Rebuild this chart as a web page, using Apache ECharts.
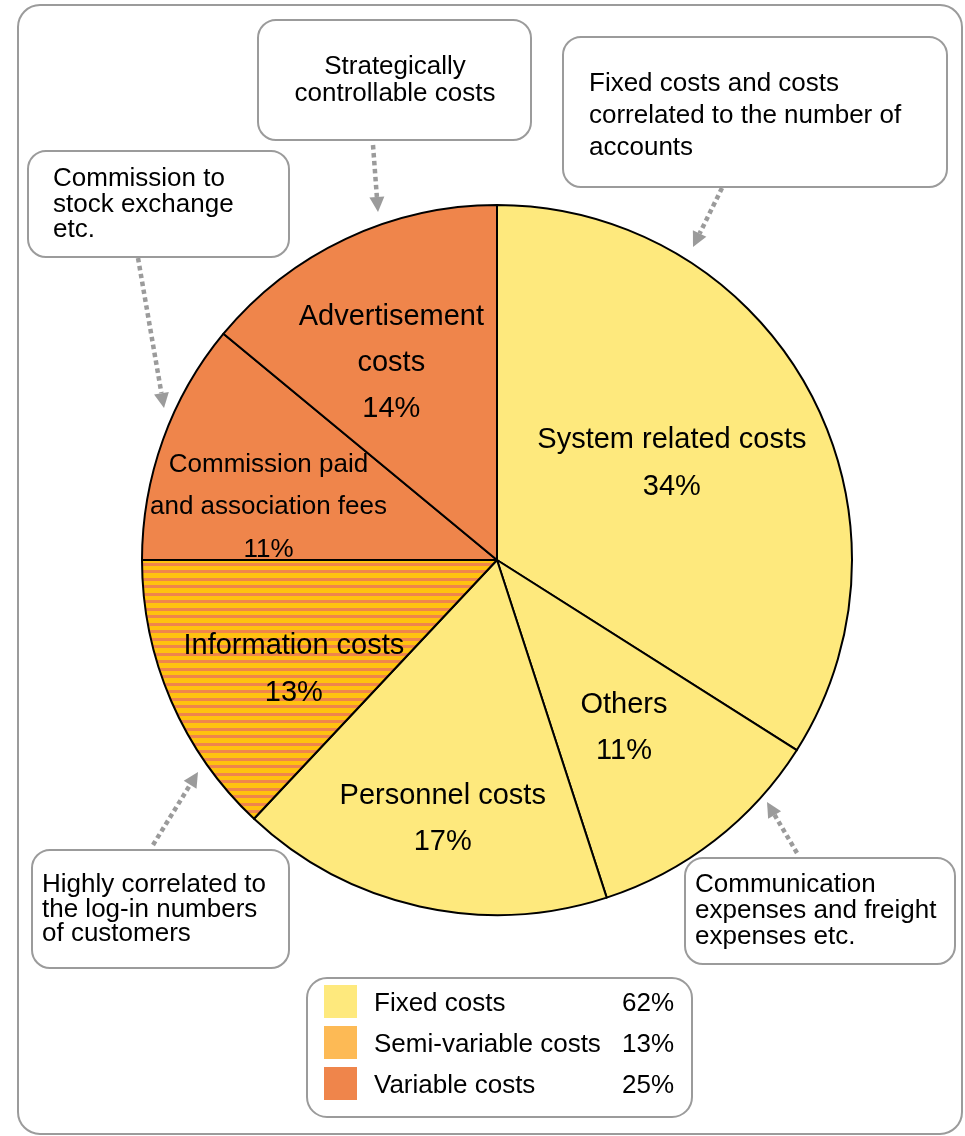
<!DOCTYPE html>
<html>
<head>
<meta charset="utf-8">
<script src="https://cdn.jsdelivr.net/npm/echarts@6/dist/echarts.min.js"></script>
<style>
  html, body { margin: 0; padding: 0; background: #fff; }
  #chart { width: 965px; height: 1136px; }
</style>
</head>
<body>
<div id="chart"></div>
<script>
// ---- data ----
const categories = ['System related costs', 'Others', 'Personnel costs', 'Information costs',
  'Commission paid\nand association fees', 'Advertisement\ncosts'];
const shares = [34, 11, 17, 13, 11, 14];
const costTypes = ['fixed', 'fixed', 'fixed', 'semi', 'variable', 'variable'];

const typeKeys = ['fixed', 'semi', 'variable'];
const typeLabels = ['Fixed costs', 'Semi-variable costs', 'Variable costs'];

const calloutTexts = [
  ['Strategically', 'controllable costs'],
  ['Fixed costs and costs', 'correlated to the number of', 'accounts'],
  ['Commission to', 'stock exchange', 'etc.'],
  ['Highly correlated to', 'the log-in numbers', 'of customers'],
  ['Communication', 'expenses and freight', 'expenses etc.']
];

// ---- styling ----
const FONT = '"Liberation Sans", Arial, sans-serif';
const YELLOW = '#FEE97D';
const ORANGE = '#EF854B';
const GOLD = '#FFC20F';
const SEMI = '#FDBA55';
const GRAY = '#9b9b9b';
const CX = 497, CY = 560, R = 355;

// label placement inside each slice: radial fraction and small angular nudge (deg)
const labelRadius = [0.566, 0.589, 0.741, 0.648, 0.662, 0.634];
const labelNudge = [-0.7, 0.4, -0.7, -4.6, -6.3, -2.8];
const labelFont = [29, 29, 29, 29, 26, 29];
const labelLine = [47, 46, 46, 47, 42.5, 46];

// horizontal stripes for the semi-variable slice
function stripePattern() {
  const c = document.createElement('canvas');
  c.width = 16; c.height = 15;
  const g = c.getContext('2d');
  g.fillStyle = GOLD; g.fillRect(0, 0, 16, 15);
  g.fillStyle = ORANGE;
  g.fillRect(0, 0, 16, 3);
  g.fillRect(0, 8, 16, 3);
  return { image: c, repeat: 'repeat' };
}

const sliceFill = { fixed: YELLOW, semi: stripePattern(), variable: ORANGE };
const typeColors = { fixed: YELLOW, semi: SEMI, variable: ORANGE };

const total = shares.reduce((a, b) => a + b, 0);
const midAngles = [];
{
  let cum = 0;
  shares.forEach(v => { midAngles.push((cum + v / 2) / total * 360); cum += v; });
}

const pieData = categories.map((name, i) => ({
  name: name,
  value: shares[i],
  itemStyle: { color: sliceFill[costTypes[i]] },
  label: { fontSize: labelFont[i], lineHeight: labelLine[i] }
}));

// ---- annotation boxes ----
const calloutLayout = [
  { box: [258, 20, 273, 120], tx: 395, ty: 67, align: 'center', lh: 26.5, arrow: [373, 145, 378, 212] },
  { box: [563, 37, 384, 150], tx: 589, ty: 84, align: 'left', lh: 32, arrow: [722, 188, 693, 247] },
  { box: [28, 151, 261, 106], tx: 53, ty: 179, align: 'left', lh: 25.5, arrow: [138, 258, 164, 408] },
  { box: [32, 850, 257, 118], tx: 42, ty: 885, align: 'left', lh: 24.5, arrow: [153, 845, 198, 772] },
  { box: [685, 858, 270, 106], tx: 695, ty: 885, align: 'left', lh: 26, arrow: [797, 853, 767, 802] }
];

function arrowElements(a) {
  const [x1, y1, x2, y2] = a;
  const len = Math.hypot(x2 - x1, y2 - y1);
  const ux = (x2 - x1) / len, uy = (y2 - y1) / len;
  const px = -uy, py = ux;
  const head = 15, half = 7.5;
  const bx = x2 - ux * head, by = y2 - uy * head;
  return [
    {
      type: 'line', z: 20,
      shape: { x1: x1, y1: y1, x2: bx, y2: by },
      style: { stroke: GRAY, lineWidth: 4.5, lineDash: [4.5, 3.5] }
    },
    {
      type: 'polygon', z: 20,
      shape: { points: [[x2, y2], [bx + px * half, by + py * half], [bx - px * half, by - py * half]] },
      style: { fill: GRAY }
    }
  ];
}

const graphics = [];
// outer frame
graphics.push({
  type: 'rect', z: -10,
  shape: { x: 18, y: 5, width: 944, height: 1129, r: 22 },
  style: { fill: '#fff', stroke: GRAY, lineWidth: 2 }
});

calloutLayout.forEach((c, i) => {
  graphics.push({
    type: 'rect', z: 5,
    shape: { x: c.box[0], y: c.box[1], width: c.box[2], height: c.box[3], r: 18 },
    style: { fill: '#fff', stroke: GRAY, lineWidth: 2 }
  });
  calloutTexts[i].forEach((line, j) => {
    graphics.push({
      type: 'text', z: 6,
      style: {
        text: line, x: c.tx, y: c.ty + j * c.lh,
        fill: '#000', font: '26px ' + FONT,
        textAlign: c.align, textVerticalAlign: 'middle'
      }
    });
  });
  arrowElements(c.arrow).forEach(e => graphics.push(e));
});

// legend box with totals per cost type
graphics.push({
  type: 'rect', z: 5,
  shape: { x: 307, y: 978, width: 385, height: 139, r: 20 },
  style: { fill: '#fff', stroke: GRAY, lineWidth: 2 }
});
typeKeys.forEach((k, i) => {
  const sum = shares.reduce((s, v, j) => s + (costTypes[j] === k ? v : 0), 0);
  const y0 = 985 + i * 41;
  graphics.push({
    type: 'rect', z: 6,
    shape: { x: 324, y: y0, width: 33, height: 33 },
    style: { fill: typeColors[k] }
  });
  graphics.push({
    type: 'text', z: 6,
    style: { text: typeLabels[i], x: 374, y: y0 + 19, fill: '#000', font: '26px ' + FONT,
      textAlign: 'left', textVerticalAlign: 'middle' }
  });
  graphics.push({
    type: 'text', z: 6,
    style: { text: sum + '%', x: 674, y: y0 + 19, fill: '#000', font: '26px ' + FONT,
      textAlign: 'right', textVerticalAlign: 'middle' }
  });
});

const chart = echarts.init(document.getElementById('chart'), null, { renderer: 'canvas' });
chart.setOption({
  animation: false,
  backgroundColor: '#fff',
  graphic: graphics,
  series: [{
    type: 'pie',
    z: 10,
    center: [CX, CY],
    radius: R,
    startAngle: 90,
    clockwise: true,
    silent: true,
    emphasis: { disabled: true },
    itemStyle: { borderColor: '#000', borderWidth: 2 },
    label: {
      show: true,
      position: 'inside',
      color: '#000',
      fontFamily: FONT,
      fontSize: 29,
      lineHeight: 46,
      align: 'center',
      textBorderWidth: 0,
      formatter: p => p.name + '\n' + p.value + '%'
    },
    labelLine: { show: false },
    labelLayout: function (p) {
      const i = p.dataIndex;
      const a = (midAngles[i] + labelNudge[i]) * Math.PI / 180;
      const d = labelRadius[i] * R;
      return { x: CX + d * Math.sin(a), y: CY - d * Math.cos(a) + 2 };
    },
    data: pieData
  }]
});
</script>
</body>
</html>
